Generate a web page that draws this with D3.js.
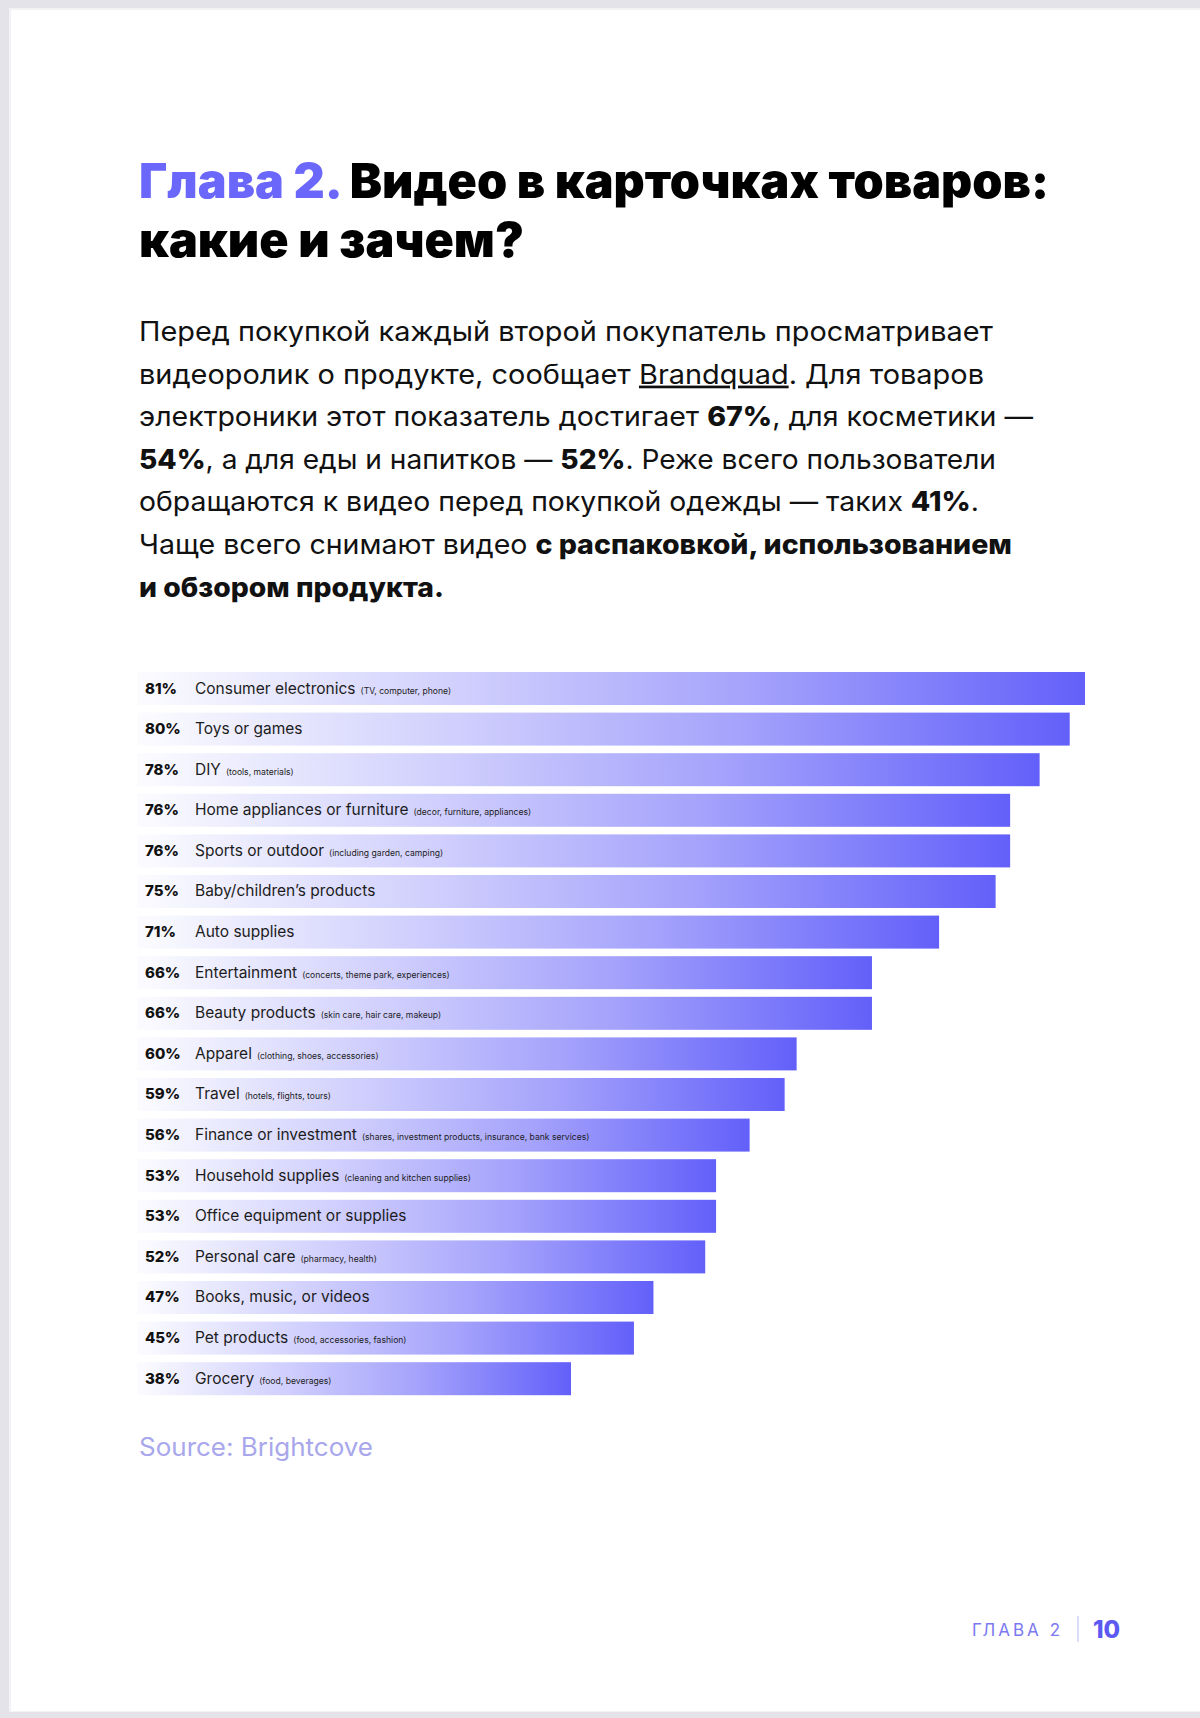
<!DOCTYPE html>
<html>
<head>
<meta charset="utf-8">
<script src="https://cdn.jsdelivr.net/npm/d3@7"></script>
<style>
  html, body { margin: 0; padding: 0; background: #e3e3e9; }
  svg { display: block; }
</style>
</head>
<body>
<svg id="chart" width="1200" height="1718"></svg>
<script>
// ---------- data ----------
const values = [81, 80, 78, 76, 76, 75, 71, 66, 66, 60, 59, 56, 53, 53, 52, 47, 45, 38];
const categories = [
  "Consumer electronics", "Toys or games", "DIY", "Home appliances or furniture",
  "Sports or outdoor", "Baby/children’s products", "Auto supplies", "Entertainment",
  "Beauty products", "Apparel", "Travel", "Finance or investment",
  "Household supplies", "Office equipment or supplies", "Personal care",
  "Books, music, or videos", "Pet products", "Grocery"
];
const details = [
  "(TV, computer, phone)", "", "(tools, materials)", "(decor, furniture, appliances)",
  "(including garden, camping)", "", "", "(concerts, theme park, experiences)",
  "(skin care, hair care, makeup)", "(clothing, shoes, accessories)", "(hotels, flights, tours)",
  "(shares, investment products, insurance, bank services)", "(cleaning and kitchen supplies)",
  "", "(pharmacy, health)", "", "(food, accessories, fashion)", "(food, beverages)"
];
const titleAccent = "Глава 2.";
const titleLine1 = " Видео в карточках товаров:";
const titleLine2 = "какие и зачем?";
// paragraph lines: arrays of [text, bold?, underline?]
const paragraph = [
  [["Перед покупкой каждый второй покупатель просматривает", false]],
  [["видеоролик о продукте, сообщает ", false], ["Brandquad", false, true], [". Для товаров", false]],
  [["электроники этот показатель достигает ", false], ["67%", true], [", для косметики —", false]],
  [["54%", true], [", а для еды и напитков — ", false], ["52%", true], [". Реже всего пользователи", false]],
  [["обращаются к видео перед покупкой одежды — таких ", false], ["41%", true], [".", false]],
  [["Чаще всего снимают видео ", false], ["с распаковкой, использованием", true]],
  [["и обзором продукта.", true]]
];
const paragraphWidths = [854, 845, 894, 857, 840, 873, 305];
const sourceText = "Source: Brightcove";
const footerChapter = "ГЛАВА 2";
const footerPage = "10";

// ---------- drawing ----------
const svg = d3.select("#chart");
const W = 1200, H = 1718;

// page
svg.append("rect").attr("x", 0).attr("y", 0).attr("width", W).attr("height", H).attr("fill", "#e3e3e9");
svg.append("rect").attr("x", 9).attr("y", 8).attr("width", W - 9).attr("height", 1704).attr("fill", "#f3f3f6");
svg.append("rect").attr("x", 11).attr("y", 10).attr("width", W - 11).attr("height", 1701).attr("fill", "#ffffff");

const defs = svg.append("defs");
const grad = defs.append("linearGradient").attr("id", "barGrad")
  .attr("x1", "0").attr("x2", "1").attr("y1", "0").attr("y2", "0");
[[0, "#fcfcff"], [0.12, "#ececfe"], [0.35, "#cfcefd"], [0.65, "#a4a2fb"], [1, "#6360fa"]]
  .forEach(([o, c]) => grad.append("stop").attr("offset", o).attr("stop-color", c));

// title
const title = svg.append("g");
const t1 = title.append("text").attr("x", 139).attr("y", 198)
  .attr("font-family", "Inter, 'Open Sans', sans-serif").attr("font-weight", 900)
  .attr("font-size", 48).attr("textLength", 910).attr("lengthAdjust", "spacingAndGlyphs");
t1.append("tspan").attr("fill", "#6b67fb").text(titleAccent);
t1.append("tspan").attr("fill", "#000").text(titleLine1);
title.append("text").attr("x", 139).attr("y", 257)
  .attr("font-family", "Inter, 'Open Sans', sans-serif").attr("font-weight", 900)
  .attr("font-size", 48).attr("fill", "#000")
  .attr("textLength", 385).attr("lengthAdjust", "spacingAndGlyphs")
  .text(titleLine2);

// paragraph
const para = svg.append("g").attr("font-family", "Inter, 'Noto Sans', sans-serif")
  .attr("font-size", 27).attr("fill", "#111");
paragraph.forEach((line, i) => {
  const t = para.append("text").attr("x", 139).attr("y", 341 + i * 42.6)
    .attr("textLength", paragraphWidths[i]).attr("lengthAdjust", "spacingAndGlyphs");
  line.forEach(([txt, bold, under]) => {
    const sp = t.append("tspan").text(txt)
      .attr("font-weight", bold ? 800 : 400);
    if (under) sp.attr("text-decoration", "underline");
  });
});

// chart scales
const y = d3.scaleBand().domain(categories).range([672, 1395.2])
  .paddingInner(0.187).paddingOuter(0);
const x = d3.scalePow().exponent(1.8).domain([38, 81]).range([571, 1085]);
const x0 = 137;

const rows = svg.append("g").selectAll("g").data(categories).join("g")
  .attr("transform", d => `translate(0,${y(d)})`);

rows.append("rect")
  .attr("x", x0)
  .attr("y", 0)
  .attr("height", y.bandwidth())
  .attr("width", (d, i) => x(values[i]) - x0)
  .attr("fill", "url(#barGrad)");

rows.append("text")
  .attr("x", 145).attr("y", y.bandwidth() / 2 + 5)
  .attr("font-family", "Inter, sans-serif").attr("font-weight", 800)
  .attr("font-size", 15).attr("fill", "#111")
  .text((d, i) => values[i] + "%");

const lab = rows.append("text")
  .attr("x", 195).attr("y", y.bandwidth() / 2 + 5)
  .attr("font-family", "Inter, sans-serif").attr("fill", "#1c1c1c");
lab.append("tspan").attr("font-size", 15.5).text(d => d);
lab.append("tspan").attr("font-size", 8.6).attr("dx", 5).attr("dy", 0)
  .text((d, i) => details[i]);

// source
svg.append("text").attr("x", 139).attr("y", 1456)
  .attr("font-family", "Inter, sans-serif").attr("font-size", 25)
  .attr("fill", "#a9a7ec").attr("textLength", 234).attr("lengthAdjust", "spacingAndGlyphs")
  .text(sourceText);

// footer
svg.append("text").attr("x", 972).attr("y", 1636)
  .attr("font-family", "Inter, sans-serif").attr("font-size", 17)
  .attr("fill", "#7c79f0").attr("textLength", 88).attr("lengthAdjust", "spacing")
  .text(footerChapter);
svg.append("line").attr("x1", 1078).attr("x2", 1078).attr("y1", 1616).attr("y2", 1642)
  .attr("stroke", "#dcdcf7").attr("stroke-width", 2);
svg.append("text").attr("x", 1093).attr("y", 1638)
  .attr("font-family", "Inter, sans-serif").attr("font-weight", 800).attr("font-size", 24)
  .attr("fill", "#5c59f2").text(footerPage);
</script>
</body>
</html>
